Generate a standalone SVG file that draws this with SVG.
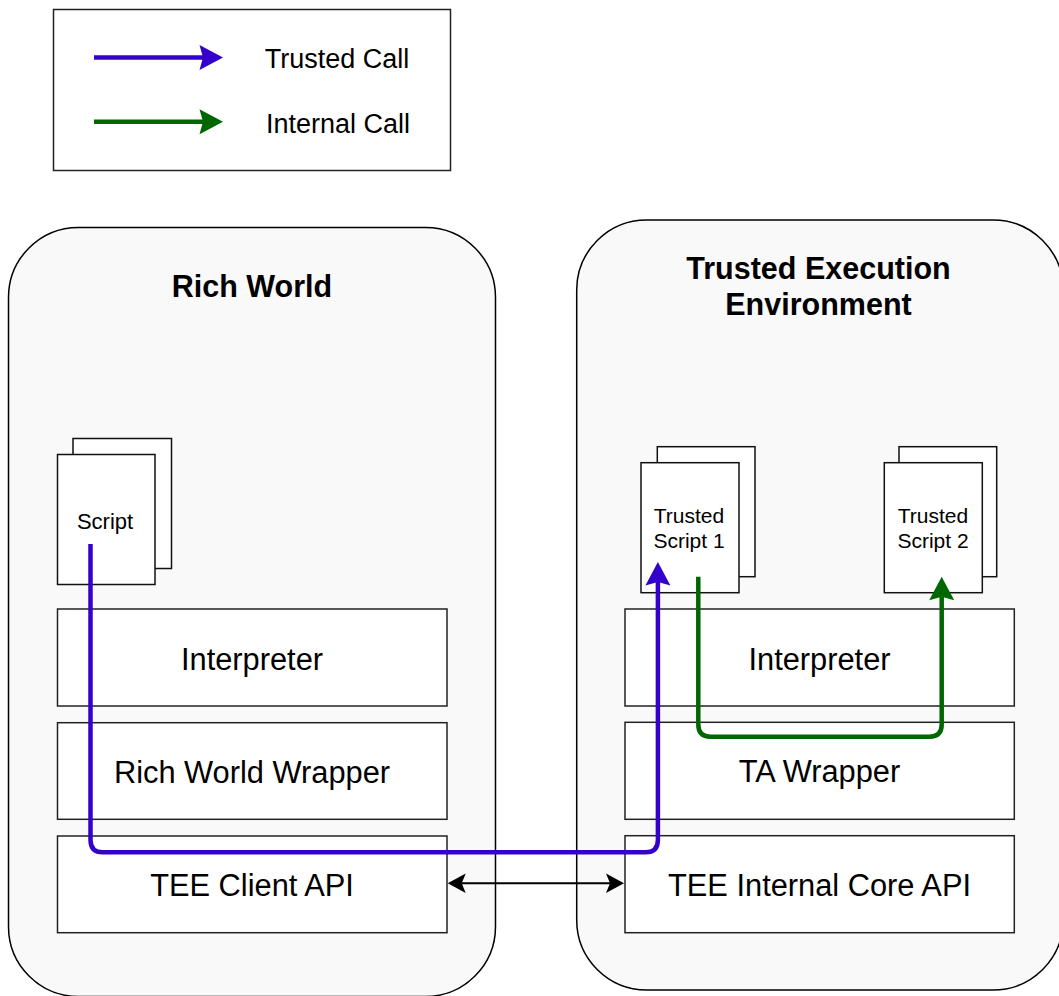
<svg xmlns="http://www.w3.org/2000/svg" width="1059" height="996" viewBox="0 0 1059 996">
  <style>
    .zone { fill: #F9F9F9; stroke: #000; stroke-width: 1.5; }
    .layer { fill: #FFFFFF; stroke: #222; stroke-width: 1.5; }
    .page { fill: #FFFFFF; stroke: #111; stroke-width: 1.5; }
    .legend-box { fill: #FFFFFF; stroke: #222; stroke-width: 1.5; }
    .title { font-family: "Liberation Sans", Arial, sans-serif; font-weight: bold; font-size: 30.5px; fill: #000; text-anchor: middle; }
    .label { font-family: "Liberation Sans", Arial, sans-serif; font-size: 30.8px; fill: #000; text-anchor: middle; }
    .legend-label { font-family: "Liberation Sans", Arial, sans-serif; font-size: 27px; fill: #000; text-anchor: middle; }
    .doc-label { font-family: "Liberation Sans", Arial, sans-serif; font-size: 21px; fill: #000; text-anchor: middle; }
    .trusted { fill: none; stroke: #3300CC; stroke-width: 4.5; stroke-linejoin: round; }
    .internal { fill: none; stroke: #006600; stroke-width: 4.5; stroke-linejoin: round; }
    .link { fill: none; stroke: #000; stroke-width: 2; }
  </style>
  <defs>
    <marker id="head-trusted" markerUnits="userSpaceOnUse" viewBox="-10 -15 40 30" markerWidth="40" markerHeight="30" refX="0" refY="0" orient="auto" overflow="visible">
      <path d="M20,0 L-3.5,-12.5 L0,0 L-3.5,12.5 Z" fill="#3300CC"/>
    </marker>
    <marker id="head-internal" markerUnits="userSpaceOnUse" viewBox="-10 -15 40 30" markerWidth="40" markerHeight="30" refX="0" refY="0" orient="auto" overflow="visible">
      <path d="M20,0 L-3.5,-12.5 L0,0 L-3.5,12.5 Z" fill="#006600"/>
    </marker>
    <marker id="head-link" markerUnits="userSpaceOnUse" viewBox="-10 -12 34 24" markerWidth="34" markerHeight="24" refX="0" refY="0" orient="auto-start-reverse" overflow="visible">
      <path d="M14,0 L-4,-9.7 L0,0 L-4,9.7 Z" fill="#000"/>
    </marker>
  </defs>

  <!-- legend -->
  <g id="legend">
    <rect class="legend-box" x="53.5" y="9.5" width="397" height="161"/>
    <path class="trusted" d="M94,57.5 H203" marker-end="url(#head-trusted)"/>
    <text class="legend-label" x="337" y="68">Trusted Call</text>
    <path class="internal" d="M94,121.7 H203" marker-end="url(#head-internal)"/>
    <text class="legend-label" x="338" y="132.5">Internal Call</text>
  </g>

  <!-- rich world side -->
  <g id="rich-world">
    <rect class="zone" x="8.5" y="227.5" width="487" height="769" rx="70" ry="70"/>
    <text class="title" x="252" y="297">Rich World</text>
  </g>

  <!-- trusted execution environment side -->
  <g id="tee">
    <rect class="zone" x="576.7" y="220" width="486.5" height="770" rx="70" ry="70"/>
    <text class="title" x="818.5" y="279">Trusted Execution</text>
    <text class="title" x="818.5" y="315">Environment</text>
  </g>

  <g id="script">
    <rect class="page" x="73" y="438.5" width="98.5" height="130"/>
    <rect class="page" x="57.5" y="454.5" width="97.5" height="130"/>
    <text class="doc-label" x="105" y="529" style="font-size:22px">Script</text>
  </g>

  <g id="trusted-script-1">
    <rect class="page" x="657.3" y="446.7" width="97.7" height="130"/>
    <rect class="page" x="641" y="462.7" width="98" height="130"/>
    <text class="doc-label" x="689" y="523">Trusted</text>
    <text class="doc-label" x="689" y="548">Script 1</text>
  </g>

  <g id="trusted-script-2">
    <rect class="page" x="899" y="446.7" width="97.7" height="130"/>
    <rect class="page" x="884.3" y="462.7" width="98" height="130"/>
    <text class="doc-label" x="933" y="523">Trusted</text>
    <text class="doc-label" x="933" y="548">Script 2</text>
  </g>

  <g id="rich-interpreter">
    <rect class="layer" x="57.5" y="609" width="389.5" height="97"/>
    <text class="label" x="252" y="670">Interpreter</text>
  </g>
  <g id="rich-world-wrapper">
    <rect class="layer" x="57.5" y="722.7" width="389.5" height="96.6"/>
    <text class="label" x="252" y="783">Rich World Wrapper</text>
  </g>
  <g id="tee-client-api">
    <rect class="layer" x="57.5" y="836" width="389.5" height="96.7"/>
    <text class="label" x="252" y="896">TEE Client API</text>
  </g>

  <g id="tee-interpreter">
    <rect class="layer" x="625" y="609" width="389.3" height="97"/>
    <text class="label" x="819.5" y="669.5">Interpreter</text>
  </g>
  <g id="ta-wrapper">
    <rect class="layer" x="625" y="722.3" width="389.3" height="97"/>
    <text class="label" x="819.5" y="782">TA Wrapper</text>
  </g>
  <g id="tee-internal-core-api">
    <rect class="layer" x="625" y="835.7" width="389.3" height="97"/>
    <text class="label" x="819.5" y="896">TEE Internal Core API</text>
  </g>

  <!-- connectors -->
  <g id="connectors">
    <path class="trusted" d="M90.5,544 V840 Q90.5,852.3 102.8,852.3 H645.6 Q657.9,852.3 657.9,840 V582" marker-end="url(#head-trusted)"/>
    <path class="internal" d="M698.3,576.7 V724.5 Q698.3,736.7 710.5,736.7 H929.5 Q941.7,736.7 941.7,724.5 V596.7" marker-end="url(#head-internal)"/>
    <path class="link" d="M461.7,883.3 H610" marker-start="url(#head-link)" marker-end="url(#head-link)"/>
  </g>
</svg>
